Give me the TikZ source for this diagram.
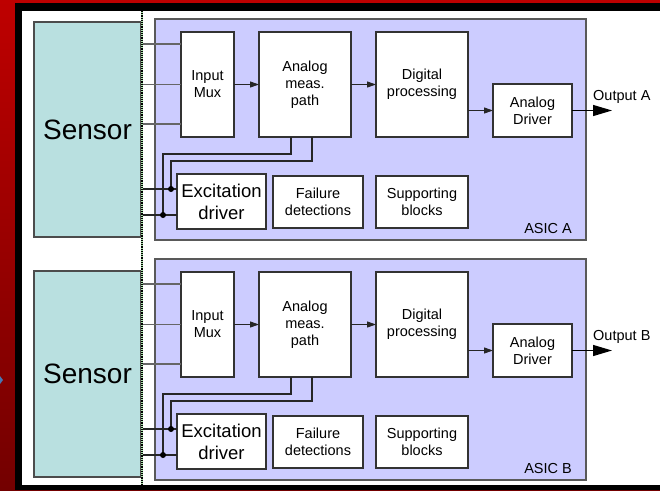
\documentclass[tikz,border=0pt]{standalone}
\usepackage{fontspec}
\setmainfont{Liberation Sans}
\usepackage{tikz}
\usetikzlibrary{arrows.meta, positioning, calc}
\usepackage{xcolor}
\definecolor{slidered}{RGB}{190,0,0}
\definecolor{slidedarkred}{RGB}{115,0,0}
\definecolor{sensorteal}{RGB}{185,224,224}
\definecolor{asiclilac}{RGB}{204,204,255}
\definecolor{dividergreen}{RGB}{170,225,170}
\definecolor{bulletblue}{RGB}{70,120,180}
\newcommand{\boxfont}{\fontsize{14.5}{17}\selectfont}
\newcommand{\sensorfont}{\fontsize{28}{32}\selectfont}
\newcommand{\excfont}{\fontsize{18.5}{22}\selectfont}
\tikzset{
  basebox/.style={
    rectangle, draw=black!80, line width=1.2pt, fill=white, align=center,
    inner sep=0pt, outer sep=0pt, font=\boxfont
  },
  blockbox/.style={basebox, minimum width=92pt, minimum height=105pt},
  sensorbox/.style={basebox, draw=black!70, fill=sensorteal, minimum width=107pt, font=\sensorfont},
  asicbox/.style={rectangle, draw=black!65, line width=1.2pt, fill=asiclilac,
    minimum width=431pt, minimum height=221pt, outer sep=0pt},
  arrow/.style={-{Triangle[length=9pt,width=6pt]}, line width=1pt, color=black!85},
  outarrow/.style={-{Triangle[length=19pt,width=11pt]}, line width=1.2pt, color=black},
  wire/.style={line width=1.2pt, color=black!85},
  inwire/.style={line width=1.2pt, color=black!60},
  junction/.style={circle, fill=black, inner sep=0pt, minimum size=6pt},
  label/.style={inner sep=0pt, font=\boxfont}
}
\begin{document}
\begin{tikzpicture}[x=1pt, y=-1pt, node distance=25pt]
  \useasboundingbox (0,0) rectangle (660,490);

  % slide frame
  \shade[top color=slidered, bottom color=slidedarkred] (0,0) rectangle (660,490);
  \fill[black] (15,3) rectangle (660,490);
  \fill[white] (22,11) rectangle (660,485);
  \fill[bulletblue] (0,376) -- (3,380) -- (0,384) -- cycle;

  % ---------------- channel A ----------------
  \node[asicbox, anchor=north west] (asicA) at (155,19) {};
  \node[label, anchor=south east, xshift=-14pt, yshift=6pt] (asicAlab) at (asicA.south east) {ASIC A};
  \node[sensorbox, anchor=north west, minimum height=215pt] (sensorA) at (34,22) {Sensor};

  \node[blockbox, anchor=north west, minimum width=53pt] (muxA) at (181,32) {Input\\Mux};
  \node[blockbox, right=of muxA] (analogA) {Analog\\meas.\\path};
  \node[blockbox, right=of analogA] (digitalA) {Digital\\processing};
  \node[basebox, minimum width=79pt, minimum height=53pt,
        right=of digitalA.south east, anchor=south west] (driverA) {Analog\\Driver};

  \node[basebox, anchor=north west, minimum width=89pt, minimum height=55pt, font=\excfont]
        (excA) at (177,174) {Excitation\\driver};
  \node[basebox, anchor=north west, minimum width=90pt, minimum height=52pt]
        (failA) at (273,176) {Failure\\detections};
  \node[basebox, anchor=north west, minimum width=92pt, minimum height=52pt]
        (suppA) at (376,176) {Supporting\\blocks};

  % sensor inputs
  \coordinate (inA1) at ([yshift=-12pt]muxA.north west);
  \coordinate (inA3) at ([yshift=13pt]muxA.south west);
  \draw[inwire] (sensorA.east |- inA1) -- (inA1);
  \draw[inwire] (sensorA.east |- muxA.west) -- (muxA.west);
  \draw[inwire] (sensorA.east |- inA3) -- (inA3);

  % signal chain
  \draw[arrow] (muxA) -- (analogA);
  \draw[arrow] (analogA) -- (digitalA);
  \draw[arrow] (digitalA.east |- driverA) -- (driverA);
  \coordinate (outA) at ([xshift=40pt]driverA.east);
  \draw[outarrow] (driverA) -- (outA);
  \node[label, anchor=west] (outAlab) at ([xshift=21pt, yshift=14pt]driverA.east) {Output A};

  % excitation loop
  \coordinate (jA1) at ([xshift=-14pt, yshift=-13.5pt]excA.west);
  \coordinate (jA2) at ([xshift=-6pt, yshift=12.5pt]excA.west);
  \draw[wire] ([xshift=-14pt]analogA.south) -- ++(0,17) -| (jA1);
  \draw[wire] ([xshift=7pt]analogA.south) -- ++(0,24) -| (jA2);
  \draw[wire] (sensorA.east |- jA1) -- (excA.west |- jA1);
  \draw[wire] (sensorA.east |- jA2) -- (excA.west |- jA2);
  \node[junction] (dotA1) at (jA1) {};
  \node[junction] (dotA2) at (jA2) {};

  % ---------------- channel B ----------------
  \node[asicbox, anchor=north west] (asicB) at (155,259) {};
  \node[label, anchor=south east, xshift=-14pt, yshift=6pt] (asicBlab) at (asicB.south east) {ASIC B};
  \node[sensorbox, anchor=north west, minimum height=206pt] (sensorB) at (34,271) {Sensor};

  \node[blockbox, anchor=north west, minimum width=53pt] (muxB) at (181,272) {Input\\Mux};
  \node[blockbox, right=of muxB] (analogB) {Analog\\meas.\\path};
  \node[blockbox, right=of analogB] (digitalB) {Digital\\processing};
  \node[basebox, minimum width=79pt, minimum height=53pt,
        right=of digitalB.south east, anchor=south west] (driverB) {Analog\\Driver};

  \node[basebox, anchor=north west, minimum width=89pt, minimum height=55pt, font=\excfont]
        (excB) at (177,414) {Excitation\\driver};
  \node[basebox, anchor=north west, minimum width=90pt, minimum height=52pt]
        (failB) at (273,416) {Failure\\detections};
  \node[basebox, anchor=north west, minimum width=92pt, minimum height=52pt]
        (suppB) at (376,416) {Supporting\\blocks};

  % sensor inputs
  \coordinate (inB1) at ([yshift=-12pt]muxB.north west);
  \coordinate (inB3) at ([yshift=13pt]muxB.south west);
  \draw[inwire] (sensorB.east |- inB1) -- (inB1);
  \draw[inwire] (sensorB.east |- muxB.west) -- (muxB.west);
  \draw[inwire] (sensorB.east |- inB3) -- (inB3);

  % signal chain
  \draw[arrow] (muxB) -- (analogB);
  \draw[arrow] (analogB) -- (digitalB);
  \draw[arrow] (digitalB.east |- driverB) -- (driverB);
  \coordinate (outB) at ([xshift=40pt]driverB.east);
  \draw[outarrow] (driverB) -- (outB);
  \node[label, anchor=west] (outBlab) at ([xshift=21pt, yshift=14pt]driverB.east) {Output B};

  % excitation loop
  \coordinate (jB1) at ([xshift=-14pt, yshift=-13.5pt]excB.west);
  \coordinate (jB2) at ([xshift=-6pt, yshift=12.5pt]excB.west);
  \draw[wire] ([xshift=-14pt]analogB.south) -- ++(0,17) -| (jB1);
  \draw[wire] ([xshift=7pt]analogB.south) -- ++(0,24) -| (jB2);
  \draw[wire] (sensorB.east |- jB1) -- (excB.west |- jB1);
  \draw[wire] (sensorB.east |- jB2) -- (excB.west |- jB2);
  \node[junction] (dotB1) at (jB1) {};
  \node[junction] (dotB2) at (jB2) {};

  % sensor / ASIC boundary
  \draw[dividergreen, line width=1.5pt] (142,11) -- (142,485);
  \draw[black, densely dotted, line width=1.2pt] (142,11) -- (142,485);
\end{tikzpicture}
\end{document}
